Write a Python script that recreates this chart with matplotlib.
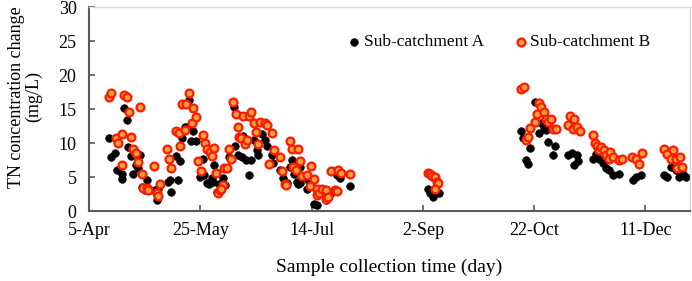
import matplotlib
matplotlib.use("Agg")
import matplotlib.pyplot as plt

# Day offsets from 5-Apr
days_a = [9, 9.7, 11.7, 12.4, 14.7, 14.7, 15.9, 16.9, 17.7, 18.9, 19.9, 21.1, 21.8, 22.9, 23.6, 25.1,
          26.2, 27.4, 29.6, 30.4, 31.1, 35.3, 36.4, 36.8,
          39, 40.1, 40.8, 41.9, 43.1, 44.1, 45, 45.6, 46.8, 48, 48.8, 49.8, 51, 51.7, 52.8, 53.9,
          55.1, 55.8, 56.1, 57.7, 58.5, 60.3, 61.3, 62.8, 63.6,
          65.1, 65.5, 67, 68.6, 69, 70.5, 71.9, 72.6, 74, 75.3, 76, 77.5, 79, 80, 82, 82.7, 85.7,
          87.2, 88.8, 90.2, 91, 92, 93.5, 93.8, 94.7, 94.7, 98.1, 98.4, 99.9, 101.3, 102.6, 103,
          103.4, 105.6, 106.6, 108.5, 111.2, 112.7, 117.1,
          152.5, 153.2, 154.5, 155.5, 157.1, 156.3,
          194.2, 194.9, 196.1, 197.2, 198.2, 200.2, 202.1, 203.2, 204.2, 205.4, 206.2, 208.4, 209.2,
          215.1, 217.1, 218.1, 219.2, 219.6, 226.3, 227.8, 229, 230.8, 232.4, 233.8, 235.3, 238.3,
          244.3, 245.8, 248,
          258.1, 259.6, 261.5, 263.7, 264.9, 266.7, 268]
tn_a = [10.7, 8.0, 8.6, 6.0, 5.4, 4.7, 15.2, 13.4, 9.4, 8.1, 5.5, 6.8, 6.3, 8.2, 3.5, 3.1,
        4.5, 3.1, 3.1, 1.6, 3.2, 4.3, 4.5, 2.8,
        8.1, 4.5, 7.3, 10.7, 12.4, 12.3, 16.3, 10.3, 11.7, 10.3, 7.3, 5.0, 7.7, 5.3, 4.1, 4.0,
        4.8, 4.3, 6.7, 2.8, 4.0, 4.8, 3.8, 8.0, 7.7,
        15.3, 9.5, 8.2, 7.9, 11.0, 7.5, 5.3, 7.5, 10.5, 8.9, 8.2, 11.3, 10.5, 9.6, 8.2, 7.1, 6.0,
        4.8, 4.1, 6.4, 7.5, 5.5, 4.2, 4.0, 6.4, 4.1, 3.3, 4.6, 4.1, 1.1, 0.9, 2.6,
        2.8, 2.6, 1.6, 2.7, 5.3, 4.8, 3.7,
        3.3, 2.7, 2.1, 3.0, 2.6, 2.8,
        11.7, 10.8, 7.5, 6.9, 9.2, 16.1, 11.5, 12.9, 12.4, 11.9, 10.2, 8.3, 9.6,
        8.2, 8.5, 6.8, 8.2, 7.4, 7.7, 8.4, 7.6, 7.0, 6.3, 6.0, 5.3, 5.5,
        4.6, 5.0, 5.3,
        5.3, 5.0, 6.5, 6.0, 5.0, 5.5, 5.0]

days_b = [9, 9.8, 12, 12.9, 14.8, 15, 15.9, 16.9, 18, 18.9, 19.9, 21.1, 21.8, 22.9, 23.9, 24.4,
          25.9, 26.6, 29, 30.4, 30.8, 31.9, 34.9, 35.9, 36.8,
          39, 40.3, 41.1, 41.9, 43.8, 43.1, 44.9, 46.1, 46.8, 48, 49.1, 50.3, 51, 52.1, 53.1, 54.3,
          55.1, 56.1, 56.9, 58, 58.8, 60, 59.3, 60.7, 61.8, 63.1, 64,
          64.8, 66, 67, 67.5, 68.1, 69, 70, 70.8, 72, 73, 74.1, 74.9, 76, 76.7, 79, 80, 81, 82, 83.2,
          86, 86.9, 88, 88.7, 90.2, 91, 91.7, 92.9, 94, 95, 95.9, 98, 99.2, 99.9, 101.1, 102.3,
          102.5, 103.4, 104.8, 106.6, 106.6, 107.4, 108.9, 110.4, 111.2, 111.9, 113.1, 117.1,
          152.5, 153.3, 154.2, 155.5, 156.2, 156.7, 155.6,
          194.2, 195.2, 196.1, 197.2, 198.2, 200.2, 201.2, 202.1, 203.2, 204.2, 205.1, 206.2, 207.4,
          208.4, 209.6, 215.1, 216.2, 217.4, 218.1, 219.2, 220.4, 226.3, 227.1, 228.2, 229, 230.1,
          231.3, 232.3, 233.5, 234.1, 235.3, 238, 239.5, 244, 245.8, 247.3, 248.3,
          258.2, 259.7, 261.5, 262.3, 263.7, 264.2, 265.5, 266.4]
tn_b = [16.8, 17.4, 10.7, 10.0, 11.3, 6.7, 17.0, 16.8, 14.5, 10.9, 9.1, 8.5, 7.2, 15.3, 5.4, 3.4,
        3.4, 3.1, 6.6, 2.7, 2.2, 4.0, 9.1, 7.6, 6.3,
        11.8, 11.4, 9.5, 15.7, 15.7, 11.9, 17.4, 12.9, 15.1, 13.8, 7.4, 5.9, 11.2, 10.0, 9.1, 8.7,
        8.1, 9.2, 5.6, 2.7, 3.1, 3.8, 3.2, 6.3, 6.3, 9.1, 7.7,
        16.1, 14.3, 12.4, 10.9, 10.8, 13.9, 9.9, 10.5, 13.9, 14.5, 13.0, 11.6, 9.9, 13.1, 13.0, 12.6,
        6.9, 11.4, 8.9,
        7.9, 5.9, 3.9, 3.8, 10.3, 9.1, 6.4, 6.0, 9.1, 7.4, 5.1, 5.3, 3.7, 6.6, 4.7, 2.4,
        3.3, 2.6, 3.3, 3.1, 1.7, 2.0, 5.9, 3.1, 2.9, 6.1, 5.6, 5.5,
        5.6, 5.4, 5.2, 5.0, 4.3, 4.1, 3.3,
        17.9, 18.3, 10.5, 10.9, 12.2, 13.1, 14.3, 15.9, 15.3, 14.6, 13.5, 13.1, 13.5,
        12.1, 12.1, 12.7, 13.9, 12.1, 13.6, 12.4, 11.7, 11.2, 10.0, 9.5, 9.0, 9.4,
        8.9, 8.2, 7.6, 8.7, 8.0, 7.5, 7.6, 8.0, 7.7, 6.9, 8.6,
        9.1, 8.4, 7.6, 8.9, 7.6, 6.3, 7.9, 6.4]

x_ticks = [0, 50, 100, 150, 200, 250]
x_tick_labels = ["5-Apr", "25-May", "14-Jul", "2-Sep", "22-Oct", "11-Dec"]
y_ticks = [0, 5, 10, 15, 20, 25, 30]

plt.rcParams['font.family'] = ['Liberation Serif', 'DejaVu Serif']

fig = plt.figure(figsize=(6.92, 2.81), dpi=100)
ax = fig.add_axes([89/692, 1 - 211/281, (690 - 89)/692, (211 - 7)/281])

ax.scatter(days_a, tn_a, s=30, c='black', edgecolors='black', linewidths=0.5,
           label='Sub-catchment A', zorder=2)
ax.scatter(days_b, tn_b, s=32, c='#F2A040', edgecolors='#FF1A00', linewidths=1.6,
           label='Sub-catchment B', zorder=3)

ax.set_xlim(0, 270)
ax.set_ylim(0, 30)
ax.set_xticks(x_ticks)
ax.set_xticklabels(x_tick_labels)
ax.set_yticks(y_ticks)

ax.tick_params(axis='both', direction='in', length=4, width=1.2, color='#595959',
               labelsize=13, labelcolor='black')
ax.tick_params(axis='x', pad=8)
ax.tick_params(axis='y', pad=9)

for side in ['left', 'bottom']:
    ax.spines[side].set_color('#595959')
    ax.spines[side].set_linewidth(1.5)
for side in ['top', 'right']:
    ax.spines[side].set_color('#D9D9D9')
    ax.spines[side].set_linewidth(1.0)

leg = ax.legend(ncol=2, loc='center', bbox_to_anchor=(498/692, 1 - 42/281),
                bbox_transform=fig.transFigure, frameon=False, fontsize=12.5,
                handletextpad=0.05, columnspacing=1.6, handlelength=1.0, borderaxespad=0)

fig.text(389/692, 1 - 267/281, "Sample collection time (day)", ha='center', va='center',
         fontsize=14)
fig.text(25/692, 1 - 97/281, "TN concentration change\n(mg/L)", ha='center', va='center',
         rotation=90, fontsize=13, linespacing=1.05, multialignment='center')

fig.savefig("out.png", dpi=100)
